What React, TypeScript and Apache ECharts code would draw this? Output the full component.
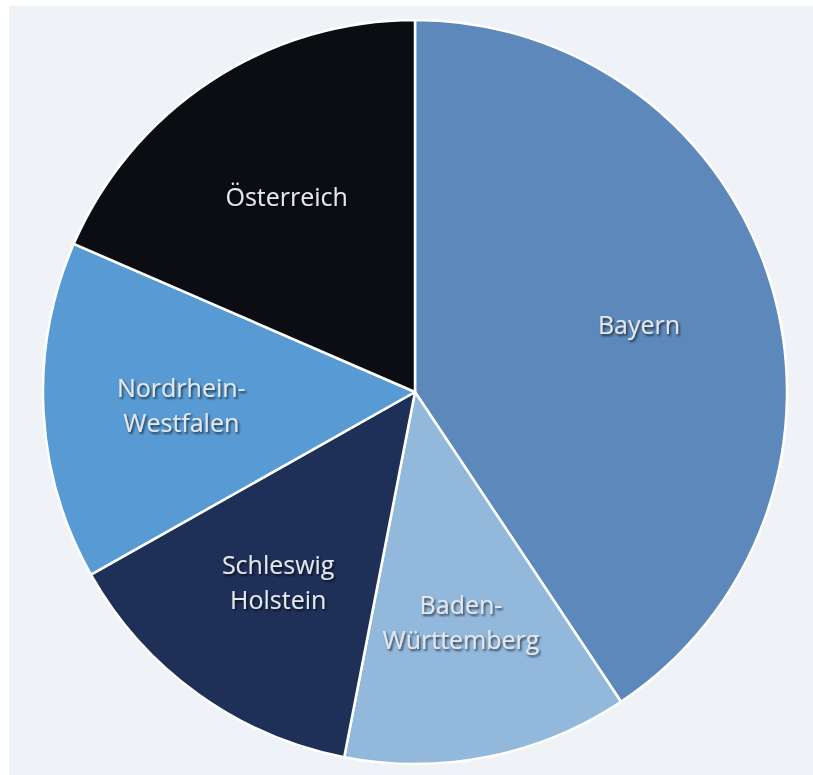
import React, { useEffect, useRef } from "react";
import * as echarts from "echarts";

const categories = ["Bayern", "Baden-Württemberg", "Schleswig Holstein", "Nordrhein-Westfalen", "Österreich"];
const labelTexts = ["Bayern", "Baden-\nWürttemberg", "Schleswig\nHolstein", "Nordrhein-\nWestfalen", "Österreich"];
const values = [40.7, 12.4, 13.8, 14.7, 18.5];
const colors = ["#5d88bb", "#92b8dc", "#1f3058", "#589bd4", "#0b0d13"];

export default function App() {
  const ref = useRef<HTMLDivElement>(null);
  useEffect(() => {
    const chart = echarts.init(ref.current!, undefined, { renderer: "svg" });
    const pieData = categories.map((c, i) => ({
      name: c,
      value: values[i],
      itemStyle: { color: colors[i] },
    }));
    const labelData = categories.map((c, i) => ({
      name: labelTexts[i],
      value: values[i],
      itemStyle: { color: "rgba(0,0,0,0)" },
    }));
    chart.setOption({
      animation: false,
      backgroundColor: "#ffffff",
      graphic: [
        { type: "rect", z: -10, shape: { x: 9, y: 6, width: 900, height: 900 }, style: { fill: "#eff3f7" } },
      ],
      series: [
        {
          type: "pie",
          center: [415, 392],
          radius: [0, 372],
          startAngle: 90,
          clockwise: true,
          silent: true,
          label: { show: false },
          labelLine: { show: false },
          itemStyle: { borderColor: "#ffffff", borderWidth: 2.5 },
          data: pieData,
        },
        {
          type: "pie",
          center: [415, 392],
          radius: [200, 262],
          startAngle: 90,
          clockwise: true,
          silent: true,
          z: 5,
          labelLine: { show: false },
          label: {
            show: true,
            position: "inside",
            formatter: "{b}",
            color: "#e4e8ee",
            fontFamily: "Open Sans",
            fontSize: 25,
            lineHeight: 35,
            align: "center",
            textShadowColor: "rgba(0,0,0,0.65)",
            textShadowBlur: 2,
            textShadowOffsetX: 1.5,
            textShadowOffsetY: 2,
          },
          data: labelData,
        },
      ],
    });
    return () => chart.dispose();
  }, []);
  return <div ref={ref} style={{ position: "fixed", left: 0, top: 0, width: 813, height: 775 }} />;
}
